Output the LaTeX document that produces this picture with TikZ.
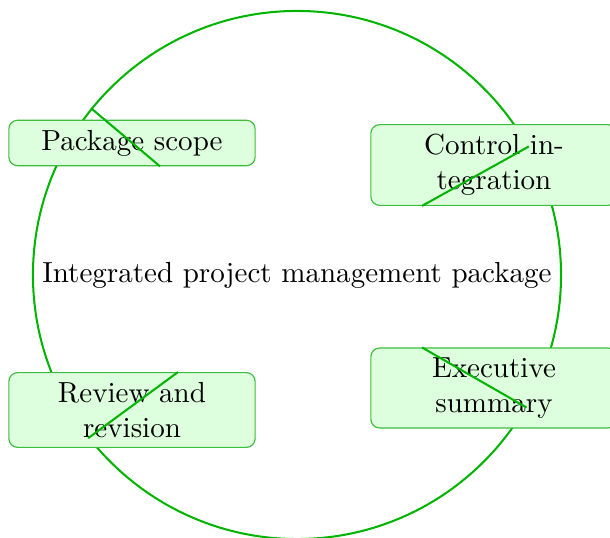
\documentclass[tikz,border=0pt]{standalone}
\usepackage{tikz}
\usetikzlibrary{positioning,calc}
\definecolor{ringgreen}{RGB}{0,180,0}
\definecolor{boxgreen}{RGB}{222,255,222}
\definecolor{edgegreen}{RGB}{60,190,60}

\begin{document}
\begin{tikzpicture}[x=0.0121cm, y=-0.0121cm,
% Node styles
 hub/.style={draw=ringgreen, circle, line width=0.7pt, minimum size=6.39cm, inner sep=0pt},
 part/.style={draw=edgegreen, rounded corners=3pt, fill=boxgreen,
 minimum width=2.98cm, minimum height=0.53cm, align=center},
% Edge styles
 link/.style={draw=ringgreen, line width=0.7pt}
]
\useasboundingbox (0,0) rectangle (610,538);
% Central circle
\node[hub] (pkg) at (297,275) {Integrated project management package};
% Package parts
\node[part] (scope) at (132,143) {Package scope};
\node[part] (control) at (494,165) {Control in-\\tegration};
\node[part] (review) at (132,410) {Review and\\revision};
\node[part] (summary) at (494,388) {Executive\\summary};
% Free ends on the boxes
\coordinate (scopeend) at ($(scope.south)+(28,0)$);
\coordinate (controlend) at ($(control.south)+(-72,0)$);
\coordinate (reviewend) at ($(review.north)+(46,0)$);
\coordinate (summaryend) at ($(summary.north)+(-72,0)$);
% Connect circle with boxes
\draw[link] (pkg.141.4) -- (scopeend);
\draw[link] (pkg.29) -- (controlend);
\draw[link] (pkg.218.9) -- (reviewend);
\draw[link] (pkg.-30.6) -- (summaryend);
\end{tikzpicture}
\end{document}
